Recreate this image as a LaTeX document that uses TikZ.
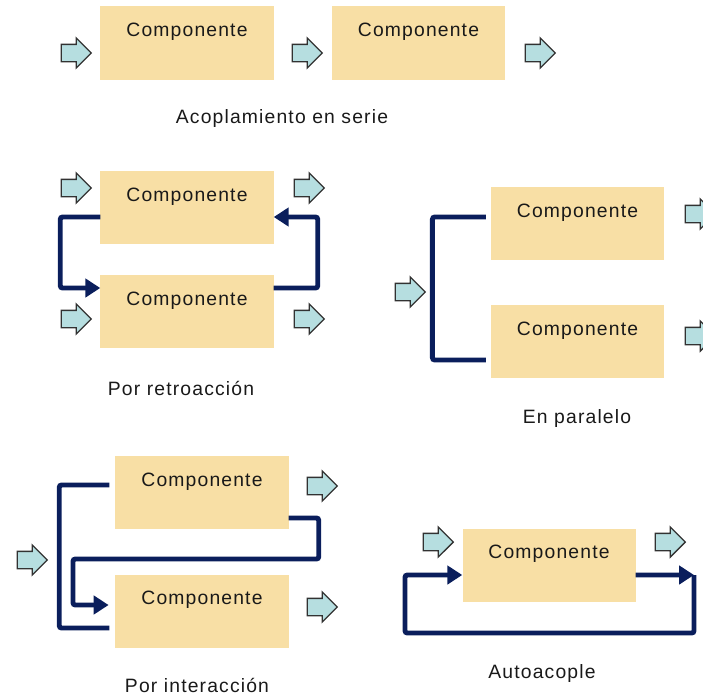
\documentclass[tikz,border=0pt]{standalone}
\usepackage{fontspec}
\setmainfont{Liberation Sans}[LetterSpace=6]
\usetikzlibrary{arrows.meta,shapes.arrows}
\definecolor{caja}{RGB}{248,223,165}
\definecolor{flechafondo}{RGB}{182,222,224}
\definecolor{flechaborde}{RGB}{50,50,50}
\definecolor{azul}{RGB}{10,30,92}
\begin{document}
\begin{tikzpicture}[x=0.03cm, y=-0.03cm,
    comp/.style={fill=caja, minimum width=5.19cm, inner sep=0pt, text height=0.9cm, text depth=1.29cm, font=\fontsize{16.5pt}{19pt}\selectfont, text=black!90},
    bloque/.style={single arrow, draw=flechaborde, fill=flechafondo, line width=1.1pt, minimum height=0.9cm, inner sep=0.24cm, single arrow head extend=0.19cm, single arrow head indent=0cm},
    rotulo/.style={font=\fontsize{16.5pt}{19pt}\selectfont, text=black!90},
    enlace/.style={draw=azul, line width=4.2pt, rounded corners=2pt},
    flujo/.style={enlace, -{Triangle[length=0.45cm,width=0.55cm]}}]
    \useasboundingbox (0,0) rectangle (703,697);

    \node[comp] (s1) at (187,43) {Componente};
    \node[comp] (s2) at (418.5,43) {Componente};
    \node[bloque] (fs1) at (72,53) {};
    \node[bloque] (fs2) at (303,53) {};
    \node[bloque] (fs3) at (536,53) {};
    \node[rotulo] (serie) at (282,118) {Acoplamiento en serie};

    \node[comp] (r1) at (187,207.5) {Componente};
    \node[comp] (r2) at (187,311.5) {Componente};
    \node[bloque] (fr1) at (72,188) {};
    \node[bloque] (fr2) at (72,319) {};
    \node[bloque] (fr3) at (305,188) {};
    \node[bloque] (fr4) at (305,319) {};
    \draw[flujo] ([yshift=-0.285cm]r1.west) -- ++(-1.2cm,0) |- ([yshift=0.705cm]r2.west);
    \draw[flujo] ([yshift=0.705cm]r2.east) -- ++(1.32cm,0) |- ([yshift=-0.285cm]r1.east);
    \node[rotulo] (retro) at (181,388) {Por retroacción};

    \node[comp] (p1) at (577.5,223.5) {Componente};
    \node[comp] (p2) at (577.5,341.5) {Componente};
    \node[bloque] (fp1) at (406,292) {};
    \node[bloque] (fp2) at (696,214) {};
    \node[bloque] (fp3) at (696,336) {};
    \draw[enlace] ([xshift=-0.15cm,yshift=0.195cm]p1.west) -- ++(-1.6cm,0) |- ([xshift=-0.15cm,yshift=-0.555cm]p2.west);
    \node[rotulo] (paralelo) at (577,418) {En paralelo};

    \node[comp] (i1) at (202,492.5) {Componente};
    \node[comp] (i2) at (202,611) {Componente};
    \node[bloque] (fi1) at (28,560) {};
    \node[bloque] (fi2) at (318,486) {};
    \node[bloque] (fi3) at (318,607) {};
    \coordinate (cruce) at (73,559);
    \draw[enlace] ([xshift=-0.18cm,yshift=0.225cm]i1.west) -- ++(-1.5cm,0) |- ([xshift=-0.18cm,yshift=-0.51cm]i2.west);
    \draw[flujo] ([yshift=-0.765cm]i1.east) -- ++(0.9cm,0) |- (cruce) |- ([xshift=-0.2cm,yshift=0.18cm]i2.west);
    \node[rotulo] (interaccion) at (197,685) {Por interacción};

    \node[comp] (a) at (549,565) {Componente};
    \node[bloque] (fa1) at (434,542) {};
    \node[bloque] (fa2) at (666,542) {};
    \coordinate (vuelta) at (694,575);
    \coordinate (fondo) at (405,633);
    \draw[flujo] ([yshift=-0.3cm]a.east) -- (vuelta);
    \draw[flujo] (vuelta) |- (fondo) |- ([yshift=-0.3cm]a.west);
    \node[rotulo] (auto) at (542,673) {Autoacople};
\end{tikzpicture}
\end{document}
